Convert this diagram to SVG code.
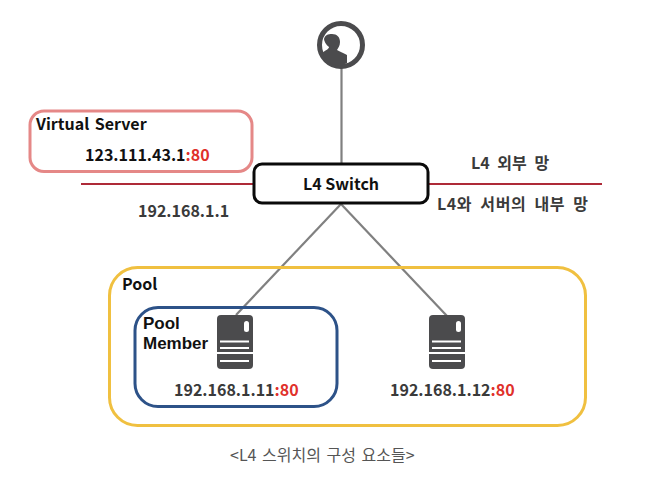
<svg xmlns="http://www.w3.org/2000/svg" width="662" height="479" viewBox="0 0 662 479">
<style>
text{font-family:"Noto Sans CJK KR","Noto Sans",sans-serif;font-weight:700;font-size:16px;fill:#3a3a3a}
.k{fill:#111}
.r{fill:#e0302a}
.box{fill:none}
.c{stroke:#808080;stroke-width:2.2;fill:none}
.w{stroke:#ae2a38;stroke-width:2;fill:none}
.d{fill:#4b4b4d}
.l{stroke:#fff;stroke-width:2;fill:none}
.m{font-family:"Liberation Sans",sans-serif;font-size:17px}
</style>
<rect width="662" height="479" fill="#fff"/>
<g id="connectors">
<path class="c" d="M341.500 66V163"/>
<path class="c" d="M341 204L236 315"/>
<path class="c" d="M341 204L447 316"/>
<path class="w" d="M81 184H254"/>
<path class="w" d="M428 184H602"/>
</g>
<g id="client">
<circle cx="341" cy="45" r="21.500" fill="#fff" stroke="#4b4b4d" stroke-width="5"/>
<path class="d" d="M322 53C326 50 329 49 329 47C326 45 324 41 324 39C325 35 328 34 332 34C337 34 340 37 340 42C340 46 338 48 337 50C340 52 344 53 347 55V63L341 66C333 66 326 61 322 53Z"/>
</g>
<g id="virtual-server">
<rect class="box" x="30" y="111" width="222" height="60.500" rx="14" stroke="#e58887" stroke-width="3"/>
<text class="k" x="36" y="130" style="word-spacing:2px">Virtual Server</text>
<text class="k" x="85" y="161">123.111.43.1<tspan class="r">:80</tspan></text>
</g>
<g id="l4-switch">
<rect x="254" y="164" width="174" height="39" rx="8" fill="#fff" stroke="#0a0a0a" stroke-width="3"/>
<text class="k" x="303" y="190">L4 Switch</text>
</g>
<text x="138" y="217">192.168.1.1</text>
<text x="471" y="169" style="word-spacing:4px">L4 외부 망</text>
<text x="437" y="210" style="word-spacing:4px" textLength="151">L4와 서버의 내부 망</text>
<g id="pool">
<rect class="box" x="109.500" y="267.500" width="476" height="158" rx="28" stroke="#f0c040" stroke-width="3"/>
<text class="k" x="122" y="290">Pool</text>
</g>
<g id="pool-member">
<rect class="box" x="135" y="307.500" width="202" height="99" rx="23" stroke="#2d5288" stroke-width="3"/>
<text class="k m" x="143" y="329">Pool</text>
<text class="k m" x="143" y="349">Member</text>
<rect class="d" x="217" y="315" width="36" height="54" rx="4"/>
<rect x="244" y="321" width="5" height="11" rx="2.500" fill="#fff"/>
<path class="l" d="M220 341.500H249M220 348H249M217 353H253M220 361H249"/>
<text x="174" y="396">192.168.1.11<tspan class="r">:80</tspan></text>
</g>
<g id="pool-member-2">
<rect class="d" x="429" y="315" width="36" height="54" rx="4"/>
<rect x="456" y="321" width="5" height="11" rx="2.500" fill="#fff"/>
<path class="l" d="M432 341.500H461M432 348H461M429 353H465M432 361H461"/>
<text x="390" y="396">192.168.1.12<tspan class="r">:80</tspan></text>
</g>
<text x="230" y="461" style="font-weight:400;fill:#555;word-spacing:2px">&lt;L4 스위치의 구성 요소들&gt;</text>
</svg>
